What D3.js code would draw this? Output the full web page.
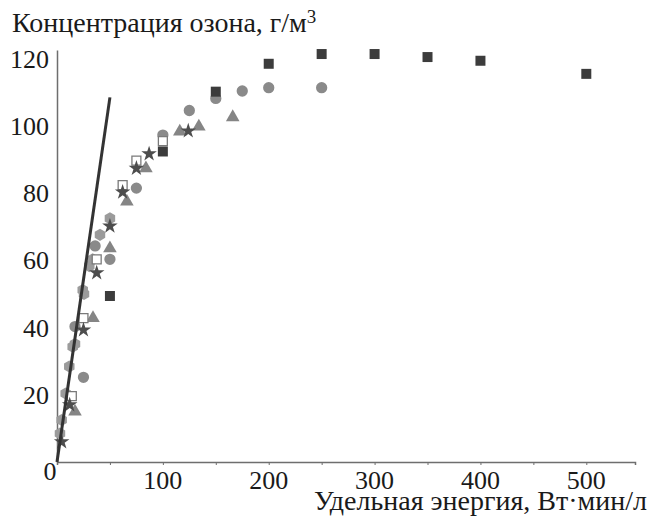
<!DOCTYPE html>
<html lang="ru">
<head>
<meta charset="UTF-8">
<title>Концентрация озона</title>
<style>
    body { margin: 0; background: #fff; }
    svg { display: block; }
    text { font-family: "Liberation Serif", "Times New Roman", serif; fill: #1a1a1a; }
</style>
</head>
<body>
<svg id="chart" width="651" height="518"></svg>

<script src="https://d3js.org/d3.v7.min.js"></script>
<script>
    // Data: [energy, concentration]
    const darkSquares = [[50, 49.4], [100, 92.4], [150, 110.2], [200, 118.5], [250, 121.4],
                         [300, 121.4], [350, 120.5], [400, 119.4], [500, 115.5]];
    const grayCircles = [[17, 40.3], [25, 25.2], [36, 64.3], [50, 60.3], [75, 81.5],
                         [100, 97.3], [125, 104.6], [150, 108.2], [175, 110.4], [200, 111.4], [250, 111.4]];
    const grayTriangles = [[17, 15], [34, 42.8], [50, 63.6], [66, 77.5], [84, 87.4],
                           [116, 98.3], [134, 99.8], [166, 102.6]];
    const darkStars = [[4.4, 6], [12, 17], [25, 39.3], [37.5, 56.3], [50, 70.2],
                       [62, 80.3], [75, 87.4], [87, 91.7], [124, 98.5]];
    const openSquares = [[14, 19.6], [25, 42.8], [37.5, 60.3], [62, 82.4], [75, 89.7], [100, 95.5]];
    const lightHexagons = [[2.8, 8.5], [4.4, 12.5], [8.2, 20.4], [11.6, 28.4], [14.8, 34.3], [17, 35.1],
                           [24.3, 51.2], [25.5, 50], [30.5, 58.3], [33.7, 60.3], [40.6, 67.6], [50, 72.5]];
    // straight line through the origin
    const fitLine = [[0, 0], [50, 108.5]];

    const xTicks = [100, 200, 300, 400, 500];
    const xMinorTicks = [50, 100, 150, 200, 250, 300, 350, 400, 450, 500];
    const yTicks = [20, 40, 60, 80, 100, 120];

    const svg = d3.select("#chart");

    const x = d3.scaleLinear().domain([0, 546]).range([57, 635]);
    const y = d3.scaleLinear().domain([0, 122.6]).range([462, 50]);

    // hexagon symbol (d3 has none)
    const symbolHexagon = {
        draw(context, size) {
            const r = Math.sqrt(size / (1.5 * Math.sqrt(3)));
            for (let i = 0; i < 6; i++) {
                const a = Math.PI / 6 + i * Math.PI / 3;
                const px = r * Math.cos(a), py = r * Math.sin(a);
                if (i === 0) context.moveTo(px, py); else context.lineTo(px, py);
            }
            context.closePath();
        }
    };

    // Axes
    const axisColor = "#6e6e6e";
    const xAxis = svg.append("g")
        .attr("transform", `translate(0,${y(0)})`)
        .call(d3.axisBottom(x).tickValues(xMinorTicks).tickSize(3).tickFormat(""));
    xAxis.select(".domain").attr("stroke", axisColor).attr("stroke-width", 1.5);
    xAxis.selectAll(".tick line").attr("stroke", axisColor);

    const yAxis = svg.append("g")
        .attr("transform", `translate(${x(0)},0)`)
        .call(d3.axisLeft(y).tickValues([]).tickSizeOuter(0));
    yAxis.select(".domain").attr("stroke", axisColor).attr("stroke-width", 1.5);

    // tick labels
    svg.append("g").selectAll("text")
        .data(xTicks)
        .enter().append("text")
        .attr("x", d => x(d))
        .attr("y", 489)
        .attr("text-anchor", "middle")
        .style("font-size", "26px")
        .text(d => d);

    svg.append("text")
        .attr("x", 50)
        .attr("y", 480)
        .attr("text-anchor", "middle")
        .style("font-size", "26px")
        .text("0");

    svg.append("g").selectAll("text")
        .data(yTicks)
        .enter().append("text")
        .attr("x", 49)
        .attr("y", d => y(d) + 9)
        .attr("text-anchor", "end")
        .style("font-size", "26px")
        .text(d => d);

    // axis titles
    const title = svg.append("text")
        .attr("x", 12)
        .attr("y", 32)
        .style("font-size", "28px");
    title.append("tspan").text("Концентрация озона, г/м");
    title.append("tspan").attr("dy", -9).style("font-size", "19px").text("3");

    svg.append("text")
        .attr("x", 647)
        .attr("y", 510)
        .attr("text-anchor", "end")
        .style("font-size", "28px")
        .text("Удельная энергия, Вт·мин/л");

    // markers
    function drawSeries(data, type, size, fill, stroke) {
        svg.append("g").selectAll("path")
            .data(data)
            .enter().append("path")
            .attr("transform", d => `translate(${x(d[0])},${y(d[1])})`)
            .attr("d", d3.symbol().type(type).size(size))
            .attr("fill", fill)
            .attr("stroke", stroke || "none")
            .attr("stroke-width", stroke ? 1.3 : 0);
    }

    drawSeries(lightHexagons, symbolHexagon, 95, "#9b9b9b");
    drawSeries(grayCircles, d3.symbolCircle, 100, "#8a8a8a");
    drawSeries(grayTriangles, d3.symbolTriangle, 80, "#858585");
    drawSeries(openSquares, d3.symbolSquare, 80, "#ffffff", "#7a7a7a");
    drawSeries(darkStars, d3.symbolStar, 75, "#4d4d4d");
    drawSeries(darkSquares, d3.symbolSquare, 100, "#3c3c3c");

    // line
    svg.append("path")
        .datum(fitLine)
        .attr("d", d3.line().x(d => x(d[0])).y(d => y(d[1])))
        .attr("fill", "none")
        .attr("stroke", "#333")
        .attr("stroke-width", 3);
</script>
</body>
</html>
